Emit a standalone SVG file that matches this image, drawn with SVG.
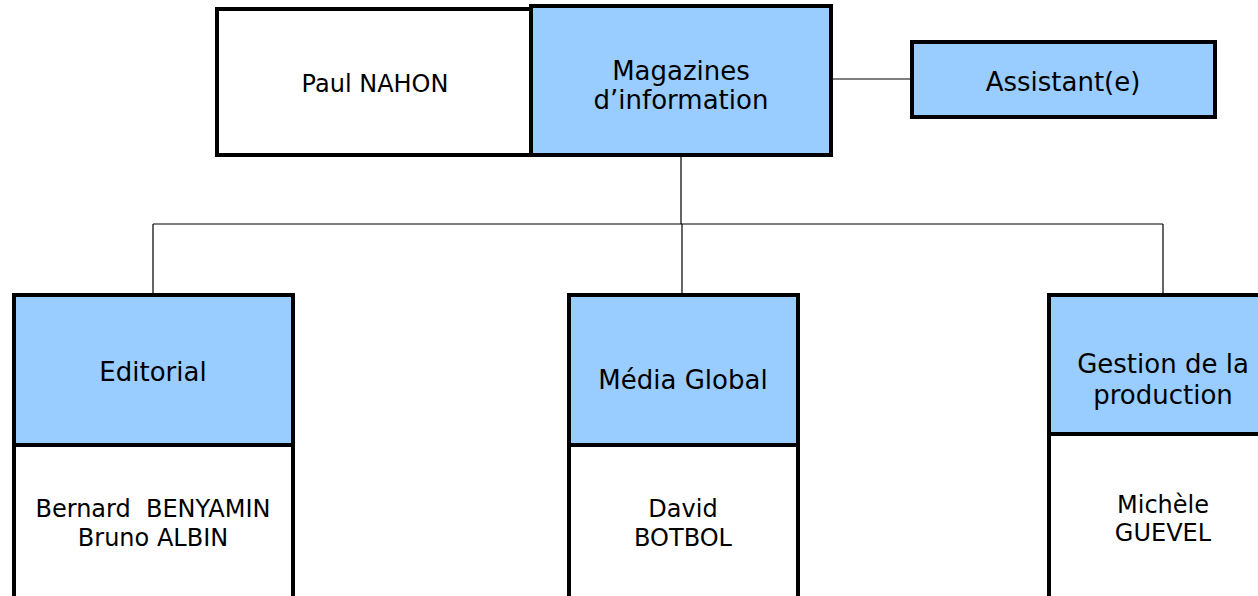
<svg xmlns="http://www.w3.org/2000/svg" width="1258" height="596" viewBox="0 0 1258 596">
<style>
.box{stroke:#000;stroke-width:4}
.blue{fill:#99ccff}
.white{fill:#fff}
.t{font-family:"DejaVu Sans",Verdana,sans-serif;font-size:26px;fill:#000;text-anchor:middle}
.ts{font-family:"DejaVu Sans",Verdana,sans-serif;font-size:24px;fill:#000;text-anchor:middle}
.c{stroke:#000;stroke-width:1.2;fill:none}
</style>
<rect width="1258" height="596" fill="#fff"/>
<g id="connectors">
<path class="c" d="M681 156V224M153 224H1163M153 224V294M682 224V294M1163 224V294"/>
<path class="c" d="M832 79H911"/>
</g>
<g id="paul">
<rect class="box white" x="217" y="9" width="315" height="146" stroke-width="3"/>
<text class="ts" x="375" y="92">Paul NAHON</text>
</g>
<g id="magazines">
<rect class="box blue" x="531" y="6" width="300" height="149"/>
<text class="t" x="681" y="80">Magazines</text>
<text class="t" x="681" y="109">d’information</text>
</g>
<g id="assistant">
<rect class="box blue" x="912" y="42" width="303" height="75"/>
<text class="t" x="1063" y="91">Assistant(e)</text>
</g>
<g id="editorial">
<rect class="box blue" x="14" y="295" width="279" height="150"/>
<rect class="box white" x="14" y="445" width="279" height="155"/>
<text class="t" x="153" y="381">Editorial</text>
<text class="ts" x="153" y="517" xml:space="preserve">Bernard  BENYAMIN</text>
<text class="ts" x="153" y="546">Bruno ALBIN</text>
</g>
<g id="media">
<rect class="box blue" x="569" y="295" width="229" height="150"/>
<rect class="box white" x="569" y="445" width="229" height="155"/>
<text class="t" x="683" y="389">Média Global</text>
<text class="ts" x="683" y="517">David</text>
<text class="ts" x="683" y="546">BOTBOL</text>
</g>
<g id="gestion">
<rect class="box blue" x="1049" y="295" width="215" height="139"/>
<rect class="box white" x="1049" y="434" width="215" height="166"/>
<text class="t" x="1163" y="373">Gestion de la</text>
<text class="t" x="1163" y="404">production</text>
<text class="ts" x="1163" y="513">Michèle</text>
<text class="ts" x="1163" y="541">GUEVEL</text>
</g>
</svg>
